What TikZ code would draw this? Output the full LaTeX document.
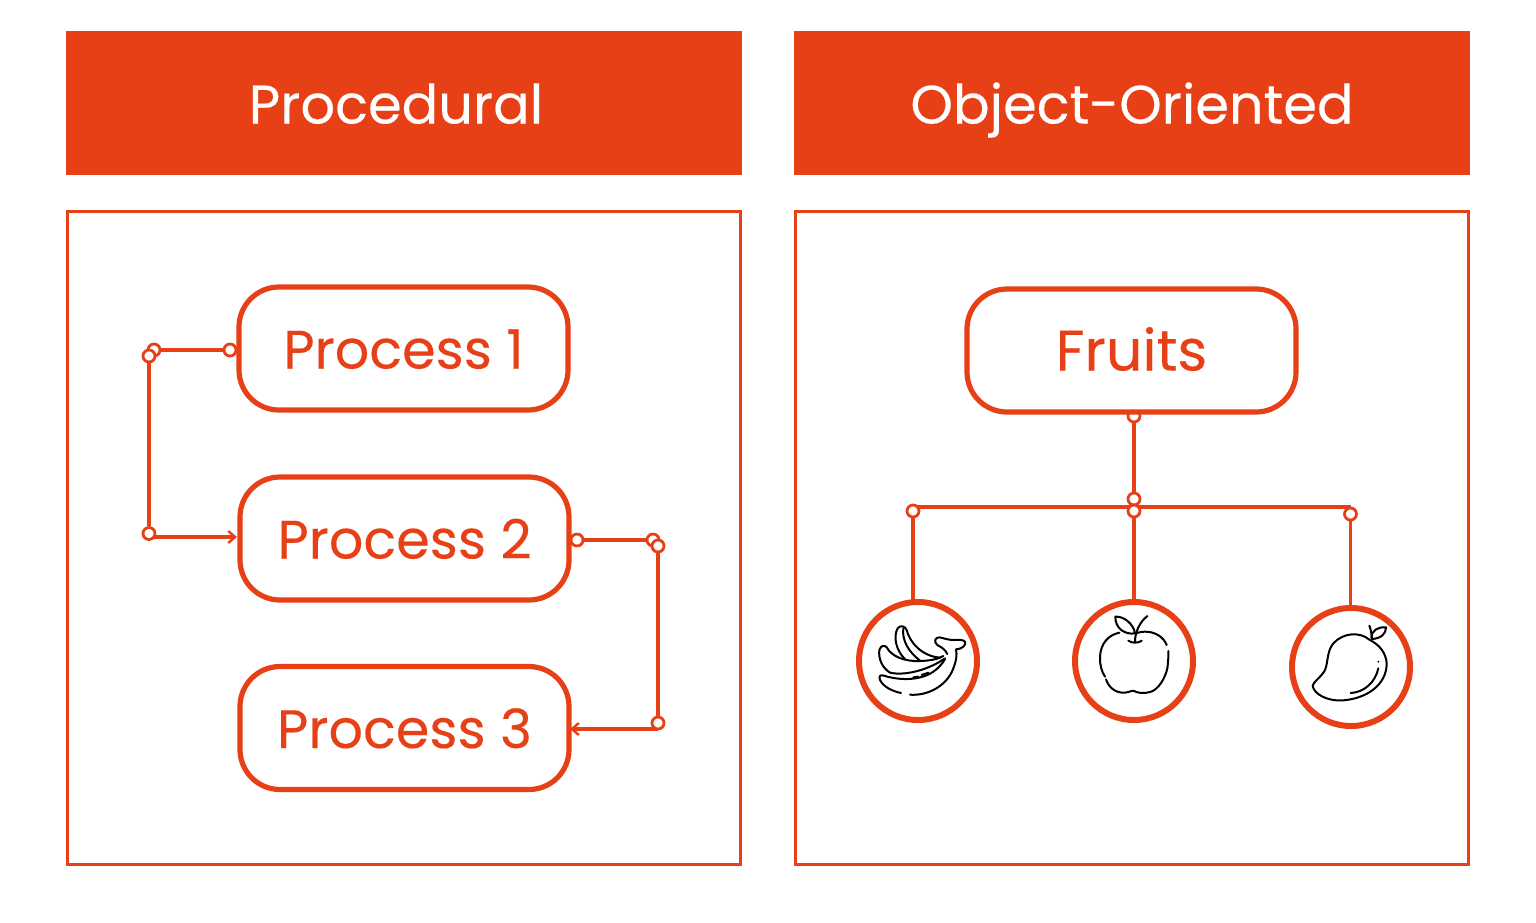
\documentclass[tikz,border=0pt]{standalone}
\usepackage{fontspec}
\setmainfont[FakeBold=0.25]{Poppins}
\usetikzlibrary{arrows.meta}
\definecolor{brand}{HTML}{E84016}
\tikzset{
  header/.style={fill=brand,draw=none,minimum width=338pt,minimum height=72.25pt,text=white,font=\fontsize{27.1}{30}\selectfont,inner sep=0pt,text height=20.5pt,text depth=0pt},
  panel/.style={draw=brand,line width=1.6pt,fill=white,minimum width=336.4pt,minimum height=326.4pt,inner sep=0pt},
  pill/.style={draw=brand,line width=2.6pt,fill=white,rounded corners=20pt,minimum width=164.5pt,minimum height=61.5pt,text=brand,font=\fontsize{27}{30}\selectfont,inner sep=0pt,text height=20pt,text depth=0pt},
  dot/.style={circle,draw=brand,line width=1.4pt,fill=white,minimum size=6pt,inner sep=0pt},
  link/.style={draw=brand,line width=1.6pt},
  arrowlink/.style={link,-{Straight Barb[length=3.5pt,width=6pt,line width=1.2pt]}},
  badge/.style={circle,draw=brand,line width=3pt,fill=white,minimum size=59pt,inner sep=0pt},
  icon/.style={draw=black,line width=1pt,line cap=round,line join=round,fill=none},
}
\begin{document}
\begin{tikzpicture}[x=0.5pt,y=-0.5pt]
\useasboundingbox (0,0) rectangle (1536,922);
\fill[white] (0,0) rectangle (1536,922);
\node[header] (hp) at (404,103) {\hspace*{-8pt}Procedural};
\node[header] (ho) at (1132,103) {Object-Oriented};
\node[panel] (pl) at (404,538) {};
\node[panel] (pr) at (1132,538) {};
% small dot hidden below the Fruits box
\node[dot] (t1) at (1134,416) {};
% pills
\node[pill] (p1) at (403.5,348.5) {Process 1};
\node[pill] (p2) at (404.5,538.5) {Process 2};
\node[pill] (p3) at (404.5,728) {Process 3};
\node[pill,font=\fontsize{28.6}{30}\selectfont] (fr) at (1131.5,350.5) {Fruits};
% connectors left
\coordinate (a1) at (149,537);
\coordinate (a2) at (237,537);
\coordinate (c1) at (658,729);
\coordinate (c2) at (570,729);
\draw[arrowlink] (a1) -- (a2);
\draw[arrowlink] (c1) -- (c2);
\node[dot] (d1) at (230,350) {};
\node[dot] (d2) at (154,350) {};
\node[dot] (d3) at (149,356) {};
\node[dot] (d4) at (149,533.5) {};
\draw[link] (d1) -- (d2);
\draw[link] (d3) -- (d4);
\node[dot] (d5) at (577,540) {};
\node[dot] (d6) at (653,540) {};
\node[dot] (d7) at (658,546) {};
\node[dot] (d8) at (658,723) {};
\draw[link] (d5) -- (d6);
\draw[link] (d7) -- (d8);
% connectors right
\coordinate (h1) at (913,507);
\coordinate (h2) at (1351,507);
\draw[link] (h1) -- (h2);
\node[dot] (t2) at (1134,499) {};
\node[dot] (t3) at (1134,511) {};
\node[dot] (t4) at (913,511) {};
\node[dot] (t5) at (1350.5,514) {};
\coordinate (v1) at (913,610);
\coordinate (v2) at (1134,610);
\coordinate (v3) at (1350.5,615);
\draw[link] (t1) -- (t2);
\draw[link] (t4) -- (v1);
\draw[link] (t3) -- (v2);
\draw[link] (t5) -- (v3);
% badges
\node[badge] (b1) at (918,661) {};
\node[badge] (b2) at (1134,661) {};
\node[badge] (b3) at (1351,667) {};
% banana
\begin{scope}[shift={(850,590)},x=0.16667pt,y=-0.16667pt]
\draw[icon] (153,309) .. controls (125,303) and (100,290) .. (90,270)
  .. controls (85,258) and (92,253) .. (102,257)
  .. controls (150,272) and (210,272) .. (250,245)
  .. controls (265,235) and (278,220) .. (285,207);
\draw[icon] (180,314) .. controls (230,318) and (290,290) .. (310,235)
  .. controls (318,215) and (322,195) .. (318,178)
  .. controls (335,178) and (350,165) .. (345,155)
  .. controls (340,148) and (325,150) .. (310,150)
  .. controls (295,150) and (280,144) .. (268,142)
  .. controls (255,142) and (250,155) .. (262,165)
  .. controls (275,172) and (285,178) .. (292,192);
\draw[icon] (120,248) .. controls (95,232) and (85,205) .. (88,180)
  .. controls (92,165) and (105,165) .. (110,172)
  .. controls (125,200) and (165,215) .. (210,213)
  .. controls (240,212) and (262,208) .. (280,198);
\draw[icon] (120,248) .. controls (165,258) and (235,240) .. (285,205);
\draw[icon] (165,207) .. controls (140,185) and (128,140) .. (143,115)
  .. controls (150,105) and (165,107) .. (170,120)
  .. controls (178,155) and (215,200) .. (272,203);
\draw[icon] (160,115) .. controls (155,150) and (175,185) .. (210,212);
\draw[icon] (190,262) -- (205,260);
\draw[icon] (215,255) -- (235,248);
% apple
\draw[icon] (808,128) .. controls (775,135) and (752,160) .. (750,200)
  .. controls (749,225) and (755,245) .. (765,260);
\draw[icon] (768,268) .. controls (775,290) and (795,310) .. (825,308)
  .. controls (840,306) and (848,300) .. (853,303)
  .. controls (860,308) and (880,312) .. (900,306)
  .. controls (925,300) and (945,265) .. (952,235)
  .. controls (955,215) and (955,200) .. (955,183);
\draw[icon] (950,165) .. controls (940,140) and (915,125) .. (885,125)
  .. controls (872,125) and (865,128) .. (858,130);
\draw[icon] (835,152) .. controls (845,160) and (865,160) .. (875,152);
\draw[icon] (855,155) .. controls (855,125) and (870,95) .. (892,78);
\draw[icon] (796,80) .. controls (820,78) and (850,100) .. (855,130)
  .. controls (825,135) and (795,115) .. (796,80) -- cycle;
\end{scope}
% mango
\begin{scope}[shift={(1280,595)},x=0.16667pt,y=-0.16667pt]
\draw[icon] (268,134) .. controls (240,110) and (190,112) .. (160,145)
  .. controls (140,170) and (145,200) .. (135,225)
  .. controls (125,245) and (100,260) .. (98,272)
  .. controls (100,295) and (140,320) .. (190,316)
  .. controls (260,310) and (320,270) .. (320,205)
  .. controls (318,175) and (300,150) .. (268,134);
\draw[icon] (212,294) .. controls (250,292) and (285,265) .. (295,220);
\fill[black] (295,200) circle[radius=3];
\draw[icon] (276,132) .. controls (275,115) and (272,103) .. (268,92);
\draw[icon] (276,132) .. controls (305,130) and (318,115) .. (318,97)
  .. controls (295,95) and (275,105) .. (274,128);
\end{scope}
\end{tikzpicture}
\end{document}
